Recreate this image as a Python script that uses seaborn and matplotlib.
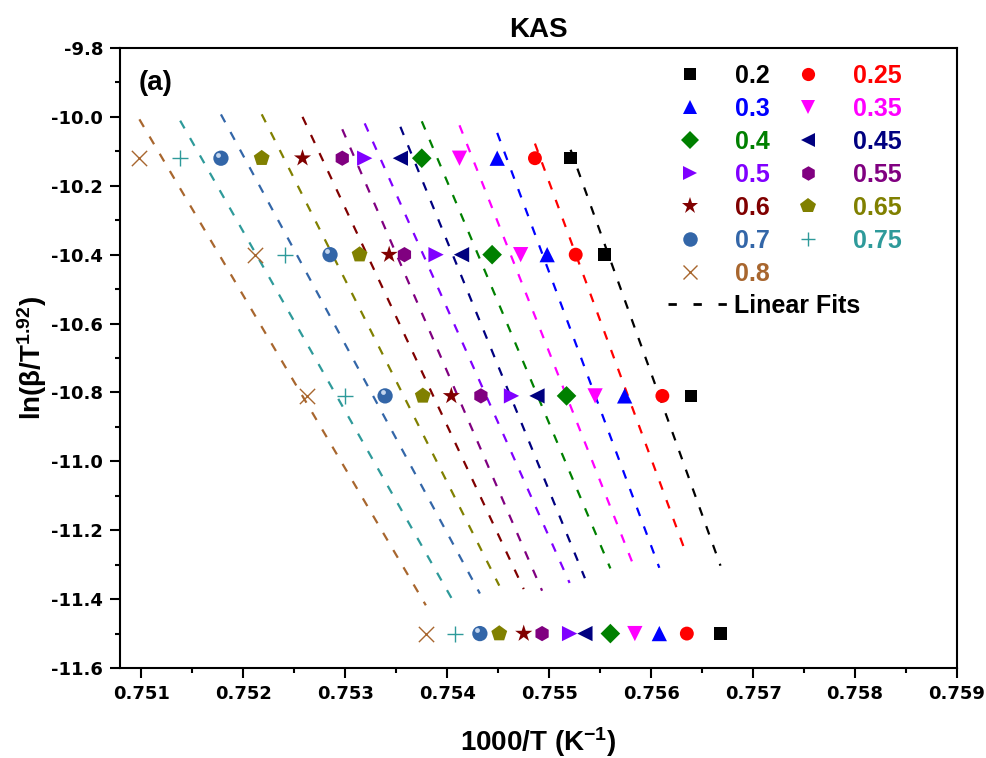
import numpy as np
import pandas as pd
import seaborn as sns
import matplotlib.pyplot as plt
from matplotlib.lines import Line2D
from matplotlib.ticker import AutoMinorLocator

# conversion levels and the ln(beta/T^1.92) values (one per heating rate)
alphas = ['0.2', '0.25', '0.3', '0.35', '0.4', '0.45', '0.5',
          '0.55', '0.6', '0.65', '0.7', '0.75', '0.8']
y_levels = [-10.12, -10.40, -10.81, -11.50]

# 1000/T for each alpha, one value per y level
x_02 = [0.75521, 0.75554, 0.75639, 0.75668]
x_025 = [0.75486, 0.75526, 0.75611, 0.75635]
x_03 = [0.75449, 0.75498, 0.75574, 0.75608]
x_035 = [0.75412, 0.75472, 0.75545, 0.75584]
x_04 = [0.75375, 0.75444, 0.75517, 0.75560]
x_045 = [0.75354, 0.75414, 0.75488, 0.75535]
x_05 = [0.75319, 0.75389, 0.75463, 0.75520]
x_055 = [0.75297, 0.75358, 0.75433, 0.75493]
x_06 = [0.75258, 0.75343, 0.75404, 0.75475]
x_065 = [0.75218, 0.75314, 0.75376, 0.75451]
x_07 = [0.75178, 0.75285, 0.75339, 0.75432]
x_075 = [0.75138, 0.75241, 0.75300, 0.75408]
x_08 = [0.75098, 0.75211, 0.75262, 0.75379]

x_all = [x_02, x_025, x_03, x_035, x_04, x_045, x_05,
         x_055, x_06, x_065, x_07, x_075, x_08]

colors = {'0.2': '#000000', '0.25': '#FF0000', '0.3': '#0000FF', '0.35': '#FF00FF',
          '0.4': '#008000', '0.45': '#000080', '0.5': '#8000FF', '0.55': '#800080',
          '0.6': '#800000', '0.65': '#808000', '0.7': '#3366A8', '0.75': '#2E9A9A',
          '0.8': '#A8662E'}
markers = {'0.2': 's', '0.25': 'o', '0.3': '^', '0.35': 'v', '0.4': 'D', '0.45': '<',
           '0.5': '>', '0.55': 'h', '0.6': '*', '0.65': 'p', '0.7': 'o', '0.75': '+',
           '0.8': 'x'}
sizes = {'0.2': 9, '0.25': 10, '0.3': 11, '0.35': 11, '0.4': 10, '0.45': 11, '0.5': 11,
         '0.55': 11, '0.6': 13, '0.65': 12, '0.7': 11, '0.75': 11, '0.8': 11}

rows = []
for a, xs in zip(alphas, x_all):
    for xv, yv in zip(xs, y_levels):
        rows.append({'alpha': a, 'x': xv, 'y': yv})
df = pd.DataFrame(rows)

sns.set_style('ticks')
plt.rcParams['font.family'] = ['Liberation Sans', 'DejaVu Sans']
plt.rcParams['font.weight'] = 'bold'
plt.rcParams['text.color'] = 'black'
plt.rcParams['axes.labelcolor'] = 'black'
plt.rcParams['axes.edgecolor'] = 'black'
plt.rcParams['xtick.color'] = 'black'
plt.rcParams['ytick.color'] = 'black'
plt.rcParams['mathtext.default'] = 'bf'
plt.rcParams['mathtext.fontset'] = 'custom'
plt.rcParams['mathtext.bf'] = 'Liberation Sans:bold'
plt.rcParams['mathtext.rm'] = 'Liberation Sans'

fig = plt.figure(figsize=(9.87, 7.58), dpi=100)
ax = fig.add_axes([0.1216, 0.1187, 0.8480, 0.8180])

# linear fits over the data x range of each alpha
for a in alphas:
    d = df[df.alpha == a]
    k, b = np.polyfit(d.x, d.y, 1)
    xf = np.array([d.x.min(), d.x.max()])
    sns.lineplot(x=xf, y=k * xf + b, ax=ax, color=colors[a], lw=1.6,
                 legend=False).lines[-1].set_dashes((4, 5))

for a in alphas:
    d = df[df.alpha == a]
    lw = 1.0 if markers[a] in ('+', 'x') else 0
    sns.scatterplot(data=d, x='x', y='y', ax=ax, marker=markers[a], s=sizes[a] ** 2,
                    color=colors[a], edgecolor=colors[a] if lw else 'none',
                    linewidth=lw, legend=False, zorder=3)
    if a == '0.7':
        # glossy highlight on the ball marker
        ax.scatter(d.x - 0.000025, d.y + 0.01, s=12, color='#C4D6EE', lw=0, zorder=4)

ax.set_xlim(0.75079, 0.759)
ax.set_ylim(-11.6, -9.8)
xt = np.arange(0.751, 0.75901, 0.001)
yt = np.arange(-11.6, -9.79, 0.2)
ax.set_xticks(xt)
ax.set_yticks(yt)
ax.xaxis.set_minor_locator(AutoMinorLocator(2))
ax.yaxis.set_minor_locator(AutoMinorLocator(2))
ax.set_xticklabels(['%.3f' % v for v in xt], family='DejaVu Sans', fontweight='bold')
ax.set_yticklabels(['%.1f' % v for v in yt], family='DejaVu Sans', fontweight='bold')
ax.tick_params(which='major', direction='out', length=7, width=1.5, labelsize=13, pad=5)
ax.tick_params(which='minor', direction='out', length=3.5, width=1.5)
for sp in ax.spines.values():
    sp.set_linewidth(1.5)
    sp.set_color('black')

ax.set_xlabel('1000/T (K$^{-1}$)', fontsize=20, fontweight='bold', labelpad=16)
ax.set_ylabel(r'ln($\mathbf{\beta}$/T$^{1.92}$)', fontsize=20, fontweight='bold', labelpad=2)
ax.set_title('KAS', fontsize=20, fontweight='bold', pad=8)
ax.text(0.022, 0.965, '(a)', transform=ax.transAxes, fontsize=20, fontweight='bold',
        va='top')

# legend: two columns, row-wise order
col1 = ['0.2', '0.3', '0.4', '0.5', '0.6', '0.7', '0.8']
col2 = ['0.25', '0.35', '0.45', '0.55', '0.65', '0.75']
order = col1 + col2
handles = []
for a in order:
    mfill = markers[a] not in ('+', 'x')
    handles.append(Line2D([], [], ls='none', marker=markers[a], color=colors[a],
                          markersize=sizes[a] * 0.95,
                          markeredgewidth=0 if mfill else 1.0))
leg = ax.legend(handles, order, ncol=2, loc='upper left', bbox_to_anchor=(0.651, 0.99),
                borderaxespad=0, frameon=False, fontsize=18, handletextpad=1.2,
                columnspacing=0.92, labelspacing=0.36, handlelength=1.2)
for t, a in zip(leg.get_texts(), order):
    t.set_color(colors[a])
    t.set_fontweight('bold')
ax.add_artist(leg)

fit_handle = Line2D([], [], color='black', lw=2.0, dashes=(3, 6))
leg2 = ax.legend([fit_handle], ['Linear Fits'], loc='upper left',
                 bbox_to_anchor=(0.643, 0.62), borderaxespad=0, frameon=False,
                 fontsize=18, handlelength=2.4, handletextpad=0.24)
for t in leg2.get_texts():
    t.set_fontweight('bold')

fig.savefig('out.png', dpi=100)
